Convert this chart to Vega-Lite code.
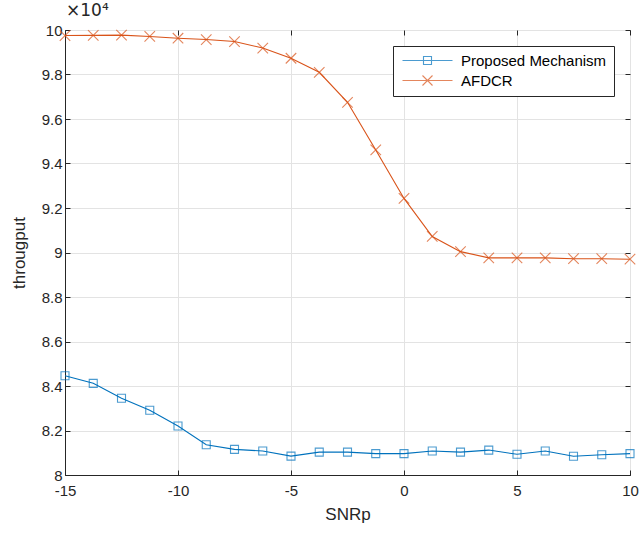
{
  "$schema": "https://vega.github.io/schema/vega-lite/v6.json",
  "width": 565,
  "height": 445,
  "autosize": {"type": "none"},
  "padding": {"left": 65, "top": 30, "right": 9, "bottom": 58},
  "background": "white",
  "title": {"text": "×10⁴", "anchor": "start", "frame": "group", "fontSize": 17, "fontWeight": "normal", "color": "#262626", "font": "DejaVu Sans", "offset": 3, "dx": 1},
  "config": {"view": {"stroke": "#262626", "strokeWidth": 1}, "font": "Liberation Sans"},
  "data": {"values": [
    {"snr": -15, "series": "Proposed Mechanism", "throughput": 8.446},
    {"snr": -13.75, "series": "Proposed Mechanism", "throughput": 8.412},
    {"snr": -12.5, "series": "Proposed Mechanism", "throughput": 8.345},
    {"snr": -11.25, "series": "Proposed Mechanism", "throughput": 8.291},
    {"snr": -10, "series": "Proposed Mechanism", "throughput": 8.220},
    {"snr": -8.75, "series": "Proposed Mechanism", "throughput": 8.136},
    {"snr": -7.5, "series": "Proposed Mechanism", "throughput": 8.115},
    {"snr": -6.25, "series": "Proposed Mechanism", "throughput": 8.108},
    {"snr": -5, "series": "Proposed Mechanism", "throughput": 8.085},
    {"snr": -3.75, "series": "Proposed Mechanism", "throughput": 8.103},
    {"snr": -2.5, "series": "Proposed Mechanism", "throughput": 8.103},
    {"snr": -1.25, "series": "Proposed Mechanism", "throughput": 8.096},
    {"snr": 0, "series": "Proposed Mechanism", "throughput": 8.096},
    {"snr": 1.25, "series": "Proposed Mechanism", "throughput": 8.108},
    {"snr": 2.5, "series": "Proposed Mechanism", "throughput": 8.103},
    {"snr": 3.75, "series": "Proposed Mechanism", "throughput": 8.112},
    {"snr": 5, "series": "Proposed Mechanism", "throughput": 8.093},
    {"snr": 6.25, "series": "Proposed Mechanism", "throughput": 8.108},
    {"snr": 7.5, "series": "Proposed Mechanism", "throughput": 8.084},
    {"snr": 8.75, "series": "Proposed Mechanism", "throughput": 8.091},
    {"snr": 10, "series": "Proposed Mechanism", "throughput": 8.096},
    {"snr": -15, "series": "AFDCR", "throughput": 9.975},
    {"snr": -13.75, "series": "AFDCR", "throughput": 9.976},
    {"snr": -12.5, "series": "AFDCR", "throughput": 9.977},
    {"snr": -11.25, "series": "AFDCR", "throughput": 9.971},
    {"snr": -10, "series": "AFDCR", "throughput": 9.963},
    {"snr": -8.75, "series": "AFDCR", "throughput": 9.957},
    {"snr": -7.5, "series": "AFDCR", "throughput": 9.948},
    {"snr": -6.25, "series": "AFDCR", "throughput": 9.919},
    {"snr": -5, "series": "AFDCR", "throughput": 9.873},
    {"snr": -3.75, "series": "AFDCR", "throughput": 9.810},
    {"snr": -2.5, "series": "AFDCR", "throughput": 9.675},
    {"snr": -1.25, "series": "AFDCR", "throughput": 9.461},
    {"snr": 0, "series": "AFDCR", "throughput": 9.243},
    {"snr": 1.25, "series": "AFDCR", "throughput": 9.072},
    {"snr": 2.5, "series": "AFDCR", "throughput": 9.004},
    {"snr": 3.75, "series": "AFDCR", "throughput": 8.976},
    {"snr": 5, "series": "AFDCR", "throughput": 8.976},
    {"snr": 6.25, "series": "AFDCR", "throughput": 8.976},
    {"snr": 7.5, "series": "AFDCR", "throughput": 8.972},
    {"snr": 8.75, "series": "AFDCR", "throughput": 8.972},
    {"snr": 10, "series": "AFDCR", "throughput": 8.970}
  ]},
  "layer": [
    {
      "mark": {"type": "line", "strokeWidth": 1.1},
      "encoding": {
        "x": {"field": "snr", "type": "quantitative", "scale": {"domain": [-15, 10], "nice": false, "zero": false},
          "axis": {"title": "SNRp", "titleFontSize": 17, "titleFontWeight": "normal", "titleColor": "#262626", "titlePadding": 8,
            "labelFontSize": 15, "labelColor": "#262626", "labelPadding": 13, "labelFlush": false,
            "labelExpr": "replace(datum.label, '−', '-')",
            "domainColor": "#262626", "tickColor": "#262626", "tickSize": -5,
            "values": [-15, -10, -5, 0, 5, 10], "grid": true, "gridColor": "#e3e3e3", "orient": "bottom"}},
        "y": {"field": "throughput", "type": "quantitative", "scale": {"domain": [8, 10], "nice": false, "zero": false},
          "axis": {"title": "througput", "titleFontSize": 17, "titleFontWeight": "normal", "titleColor": "#262626", "titlePadding": 13,
            "labelFontSize": 15, "labelColor": "#262626", "labelPadding": 8, "format": ".1~f",
            "domainColor": "#262626", "tickColor": "#262626", "tickSize": -5,
            "values": [8, 8.2, 8.4, 8.6, 8.8, 9, 9.2, 9.4, 9.6, 9.8, 10], "grid": true, "gridColor": "#e3e3e3", "orient": "left"}},
        "color": {"field": "series", "type": "nominal",
          "scale": {"domain": ["Proposed Mechanism", "AFDCR"], "range": ["#0072BD", "#D95319"]},
          "legend": {"title": null, "orient": "top-right", "offset": 16, "padding": 7,
            "strokeColor": "#262626", "fillColor": "white",
            "labelFontSize": 15, "labelColor": "black", "labelOffset": 46, "rowPadding": 4,
            "symbolSize": 100, "symbolStrokeWidth": 1.1, "symbolFillColor": "transparent",
            "symbolType": {"expr": "datum.value === 'AFDCR' ? 'M-1,0L9,0M3,-1L5,1M3,1L5,-1' : 'M-1,0L9,0M3.2,-0.8L4.8,-0.8L4.8,0.8L3.2,0.8Z'"}}}
      }
    },
    {
      "transform": [{"filter": "datum.series === 'Proposed Mechanism'"}],
      "mark": {"type": "point", "filled": false, "strokeWidth": 1.1, "shape": "square", "size": 64},
      "encoding": {
        "x": {"field": "snr", "type": "quantitative", "axis": null},
        "y": {"field": "throughput", "type": "quantitative", "axis": null},
        "color": {"field": "series", "type": "nominal"}
      }
    },
    {
      "transform": [{"filter": "datum.series === 'AFDCR'"}],
      "mark": {"type": "point", "filled": false, "strokeWidth": 1.1, "shape": "M-1,-1L1,1M-1,1L1,-1", "size": 110},
      "encoding": {
        "x": {"field": "snr", "type": "quantitative", "axis": null},
        "y": {"field": "throughput", "type": "quantitative", "axis": null},
        "color": {"field": "series", "type": "nominal"}
      }
    },
    {
      "mark": {"type": "point", "opacity": 0},
      "encoding": {
        "x": {"field": "snr", "type": "quantitative",
          "axis": {"orient": "top", "labels": false, "title": null, "grid": false, "domain": false, "tickColor": "#262626", "tickSize": -5, "values": [-15, -10, -5, 0, 5, 10]}},
        "y": {"field": "throughput", "type": "quantitative",
          "axis": {"orient": "right", "labels": false, "title": null, "grid": false, "domain": false, "tickColor": "#262626", "tickSize": -5, "values": [8, 8.2, 8.4, 8.6, 8.8, 9, 9.2, 9.4, 9.6, 9.8, 10]}}
      }
    }
  ],
  "resolve": {"axis": {"x": "independent", "y": "independent"}}
}
